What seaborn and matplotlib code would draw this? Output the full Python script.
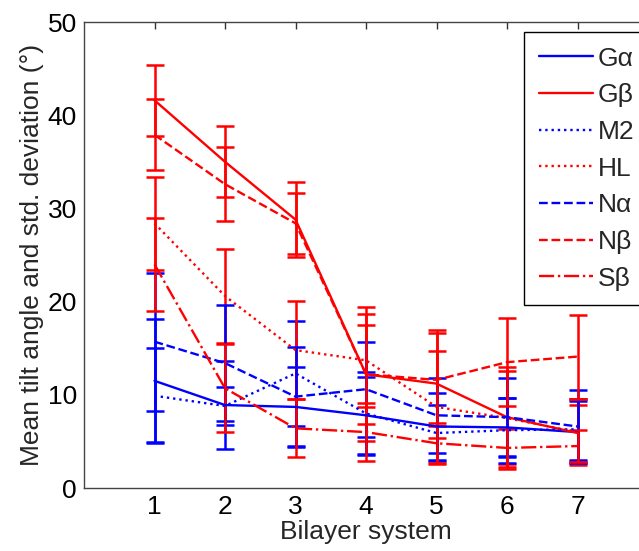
import numpy as np
import pandas as pd
import matplotlib
matplotlib.use("Agg")
import matplotlib.pyplot as plt
import seaborn as sns

systems = [1, 2, 3, 4, 5, 6, 7]
labels = ["Gα", "Gβ", "M2", "HL", "Nα", "Nβ", "Sβ"]

g_alpha = [11.5, 8.9, 8.7, 7.8, 6.6, 6.5, 6.0]
g_beta = [41.6, 35.0, 28.8, 12.2, 11.2, 7.6, 5.9]
m2 = [9.9, 8.8, 12.3, 8.0, 5.9, 6.2, 6.3]
hl = [28.4, 20.6, 14.8, 13.7, 8.7, 7.5, 6.0]
n_alpha = [15.7, 13.4, 9.8, 10.6, 7.8, 7.6, 6.6]
n_beta = [37.9, 32.6, 28.4, 12.2, 11.6, 13.5, 14.1]
s_beta = [24.0, 10.7, 6.4, 6.0, 4.8, 4.3, 4.5]

g_alpha_sd = [6.6, 4.7, 4.3, 4.1, 3.6, 3.2, 3.3]
g_beta_sd = [3.8, 3.8, 4.0, 7.2, 5.8, 5.0, 3.0]
m2_sd = [5.1, 2.0, 5.6, 4.5, 3.0, 3.5, 3.3]
hl_sd = [5.0, 5.0, 5.3, 5.0, 6.0, 5.5, 3.5]
n_alpha_sd = [7.4, 6.2, 5.3, 5.1, 4.0, 4.2, 3.9]
n_beta_sd = [3.8, 4.0, 3.3, 5.3, 5.0, 4.7, 4.5]
s_beta_sd = [5.0, 4.7, 3.1, 3.1, 2.2, 2.0, 1.7]

means = [g_alpha, g_beta, m2, hl, n_alpha, n_beta, s_beta]
sds = [g_alpha_sd, g_beta_sd, m2_sd, hl_sd, n_alpha_sd, n_beta_sd, s_beta_sd]
colors = ["#0000ff", "#ff0000", "#0000ff", "#ff0000", "#0000ff", "#ff0000", "#ff0000"]
styles = ["-", "-", ":", ":", "--", "--", "-."]

rows = []
for lab, m, s in zip(labels, means, sds):
    for x, v, e in zip(systems, m, s):
        rows.append({"system": x, "angle": v, "sd": e, "series": lab})
df = pd.DataFrame(rows)

sns.set_style("white")
plt.rcParams["font.family"] = ["Liberation Sans", "DejaVu Sans"]

FS = 19
fig = plt.figure(figsize=(6.39, 5.51), dpi=100)
ax = fig.add_axes([84 / 639, 63 / 551, (648 - 84) / 639, (488 - 22) / 551])

for lab, col, ls in zip(labels, colors, styles):
    d = df[df["series"] == lab]
    ax.errorbar(d["system"], d["angle"], yerr=d["sd"], fmt="none", ecolor=col,
                elinewidth=1.8, capsize=6.5, capthick=1.8, zorder=2)
for lab, col, ls in zip(labels, colors, styles):
    d = df[df["series"] == lab]
    sns.lineplot(data=d, x="system", y="angle", ax=ax, color=col, linestyle=ls,
                 linewidth=1.7, label=lab, zorder=3)

ax.set_xlim(0, 8)
ax.set_ylim(0, 50)
ax.set_xticks(systems)
ax.set_yticks([0, 10, 20, 30, 40, 50])
ax.tick_params(axis="both", direction="in", length=5, width=1, labelsize=FS,
               top=True, right=True, colors="#333333", labelcolor="black", pad=5)
ax.set_xlabel("Bilayer system", fontsize=FS, labelpad=1)
ax.set_ylabel("Mean tilt angle and std. deviation (°)", fontsize=FS, labelpad=3)
for sp in ax.spines.values():
    sp.set_color("#444444")
    sp.set_linewidth(1)

leg = ax.legend(loc="upper left", bbox_to_anchor=(524 / 639, 1 - 32 / 551),
                bbox_transform=fig.transFigure, fontsize=FS, frameon=True,
                fancybox=False, edgecolor="black", framealpha=1,
                handlelength=2.05, handletextpad=0.2, labelspacing=0.48,
                borderpad=0.55, borderaxespad=0)
leg.get_frame().set_linewidth(1)

fig.canvas.draw()
fig.savefig("out.png", dpi=100)
